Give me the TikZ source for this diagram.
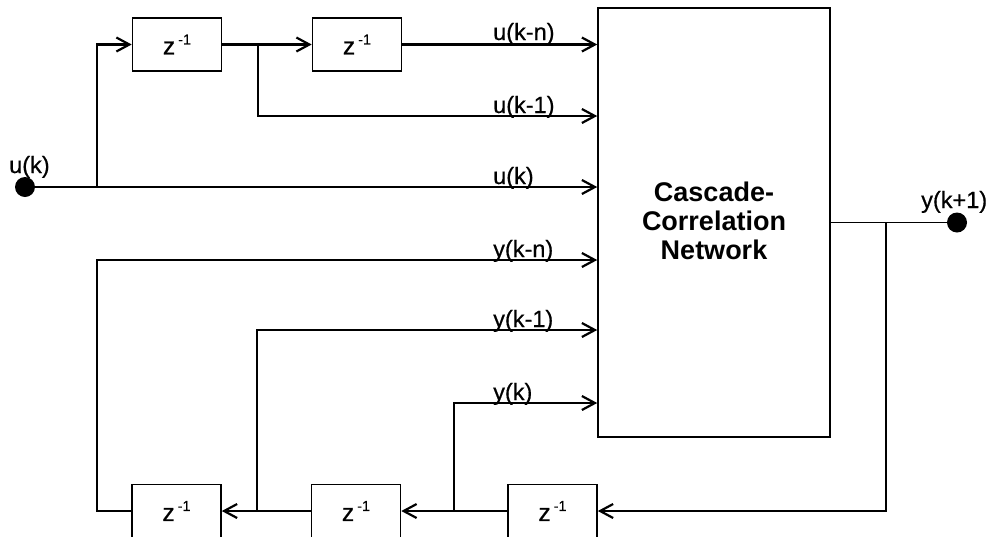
\documentclass[tikz,border=0pt]{standalone}
\usepackage{fontspec}
\setmainfont{Liberation Sans}
\newfontfamily\heavyfont[FakeBold=0.6]{Liberation Sans}
\usetikzlibrary{arrows.meta}
\newcommand{\zinv}{z\hspace{3pt}\raisebox{10pt}{\fontsize{14.5}{14.5}\selectfont -1}}
\begin{document}
\begin{tikzpicture}[x=1pt,y=-1pt,
  delay/.style={draw, line width=1.6pt, minimum width=89pt, minimum height=53pt,
    inner sep=0pt, font=\heavyfont\fontsize{24.5}{24.5}\selectfont},
  wire/.style={line width=2.2pt, line join=miter},
  arr/.style={wire, -{Straight Barb[length=13pt,width=14pt]}},
  lab/.style={anchor=base west, inner sep=0pt, font=\heavyfont\fontsize{23.5}{23.5}\selectfont},
  dot/.style={circle, fill, minimum size=20pt, inner sep=0pt}]
\useasboundingbox (0,0) rectangle (995,536);

% main network
\node[draw, line width=1.6pt, minimum width=232pt, minimum height=429pt, inner sep=0pt] (cc) at (714,222.5) {};
\node[font=\bfseries\fontsize{27}{29}\selectfont, align=center, inner sep=0pt] (cct) at (714,221) {Cascade-\\Correlation\\Network};

% input
\node[dot] (u) at (25,187) {};
\node[lab] (lu) at (9,173) {u(k)};

% delay boxes
\node[delay] (t1) at (177,44.5) {\zinv};
\node[delay] (t2) at (357,44.5) {\zinv};
\node[delay] (b1) at (176.5,511) {\zinv};
\node[delay] (b2) at (356,511) {\zinv};
\node[delay] (b3) at (552.5,511) {\zinv};

% output
\node[dot] (y) at (957,222.5) {};
\node[lab] (ly) at (921,208) {y(k+1)};

% junctions / corners
\coordinate (j1) at (97,187);
\coordinate (j2) at (258,44.5);
\coordinate (c2) at (258,116);
\coordinate (j4) at (886,222.5);
\coordinate (j5) at (454,511);
\coordinate (c5) at (454,403);
\coordinate (j6) at (257,511);
\coordinate (c6) at (257,330);
\coordinate (c7) at (97,511);
\coordinate (c8) at (97,260);

% input side wires
\draw[arr] (u) -- (u -| cc.west);
\draw[arr] (j1) |- (t1.west);
\draw[arr] (t1) -- (t2);
\draw[arr] (j2) -- (c2) -- (c2 -| cc.west);
\draw[arr] (t2) -- (t2 -| cc.west);

% output side wires
\draw[line width=1.6pt] (cc.east |- y) -- (y);
\draw[arr] (j4) |- (b3.east);
\draw[arr] (b3) -- (b2);
\draw[arr] (j5) -- (c5) -- (c5 -| cc.west);
\draw[arr] (b2) -- (b1);
\draw[arr] (j6) -- (c6) -- (c6 -| cc.west);
\draw[arr] (b1.west) -- (c7) -- (c8) -- (c8 -| cc.west);

% signal labels
\node[lab] (l1) at (493,40) {u(k-n)};
\node[lab] (l2) at (493,113) {u(k-1)};
\node[lab] (l3) at (493,184) {u(k)};
\node[lab] (l4) at (493,257) {y(k-n)};
\node[lab] (l5) at (493,327) {y(k-1)};
\node[lab] (l6) at (493,400) {y(k)};
\end{tikzpicture}
\end{document}
